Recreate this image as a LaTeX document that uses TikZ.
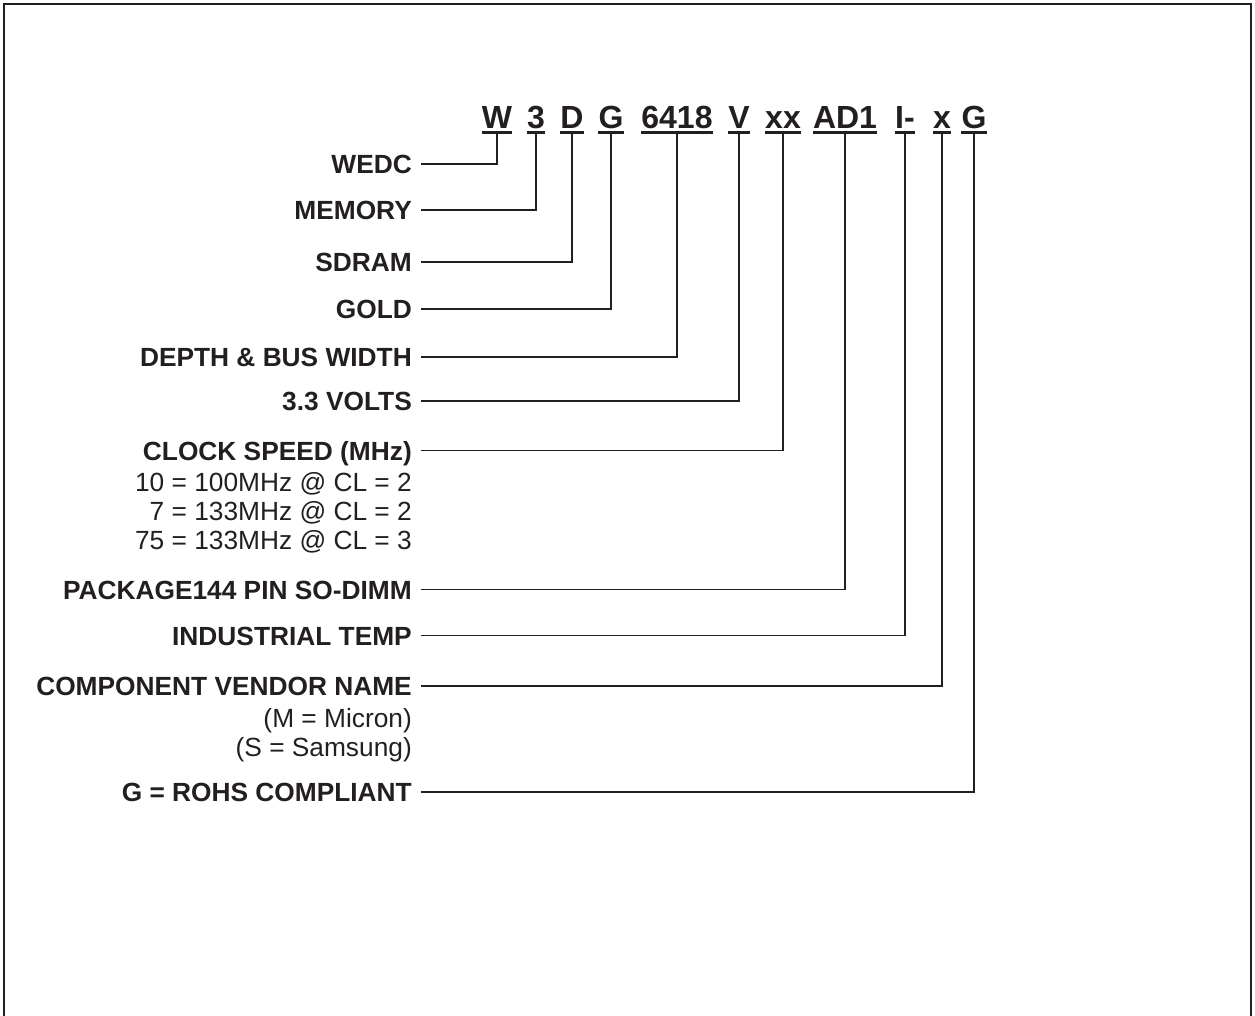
\documentclass[tikz,border=0pt]{standalone}
\usepackage{fontspec}
\setmainfont{Liberation Sans}
\definecolor{ink}{HTML}{231F20}
\begin{document}
\begin{tikzpicture}[x=1pt,y=1pt,
  codebox/.style={anchor=base,inner sep=0pt,font=\fontsize{32}{36}\selectfont\bfseries,text=ink},
  lblbox/.style={anchor=base east,inner sep=0pt,font=\fontsize{26.3}{30}\selectfont\bfseries,text=ink},
  subbox/.style={anchor=base east,inner sep=0pt,font=\fontsize{26.3}{30}\selectfont,text=ink},
  uline/.style={draw=ink,line width=2.4pt},
  conn/.style={draw=ink,line width=1.5pt},
  frame/.style={draw=ink,line width=2pt}]
\useasboundingbox (0,0) rectangle (1255,-1015);
\draw[frame] (3.5,-1016) -- (3.5,-3.5) -- (1250.5,-3.5) -- (1250.5,-1016);
% code characters
\foreach \n/\x/\t in {c1/497/W,c2/536/3,c3/572/D,c4/611/G,c5/677/6418,c6/739/V,c7/783/xx,c8/845/AD1,c9/905/I-,c10/942/x,c11/974/G}{
  \node[codebox] (\n) at (\x,-128) {\t};
  \draw[uline] ([yshift=-4.5pt]\n.base west) -- ([yshift=-4.5pt]\n.base east);
  \coordinate (t\n) at ([yshift=-4.5pt]\n.base);
}
% labels
\node[lblbox] (l1) at (412,-173.5) {WEDC};
\node[lblbox] (l2) at (412,-219.5) {MEMORY};
\node[lblbox] (l3) at (412,-271.5) {SDRAM};
\node[lblbox] (l4) at (412,-318.5) {GOLD};
\node[lblbox] (l5) at (412,-366.5) {DEPTH \& BUS WIDTH};
\node[lblbox] (l6) at (412,-410.5) {3.3 VOLTS};
\node[lblbox] (l7) at (412,-460) {CLOCK SPEED (MHz)};
\node[subbox] (s71) at (412,-491) {10 = 100MHz @ CL = 2};
\node[subbox] (s72) at (412,-520) {7 = 133MHz @ CL = 2};
\node[subbox] (s73) at (412,-549) {75 = 133MHz @ CL = 3};
\node[lblbox] (l8) at (412,-599) {PACKAGE144 PIN SO-DIMM};
\node[lblbox] (l9) at (412,-645) {INDUSTRIAL TEMP};
\node[lblbox] (l10) at (412,-695.5) {COMPONENT VENDOR NAME};
\node[subbox] (s101) at (412,-727) {(M = Micron)};
\node[subbox] (s102) at (412,-756) {(S = Samsung)};
\node[lblbox] (l11) at (412,-801.5) {G = ROHS COMPLIANT};
% connectors
\foreach \i in {1,...,11}{
  \draw[conn] (tc\i) |- ([shift={(9pt,9.5pt)}]l\i.base east);
}
\end{tikzpicture}
\end{document}
